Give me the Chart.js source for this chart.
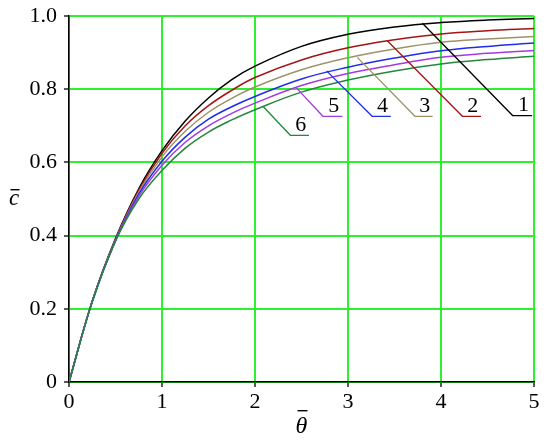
<!DOCTYPE html>
<html>
<head>
<meta charset="utf-8">
<script src="https://cdn.jsdelivr.net/npm/chart.js@4/dist/chart.umd.min.js"></script>
<style>
	html, body { margin: 0; padding: 0; background: #fff; }
	#wrap { width: 550px; height: 444px; }
</style>
</head>
<body>
<div id="wrap"><canvas id="conc-chart"></canvas></div>
<script>
// dimensionless time (theta bar)
var theta = [0, 0.25, 0.5, 0.75, 1, 1.25, 1.5, 1.75, 2, 2.5, 3, 3.5, 4, 4.5, 5];

// concentration curves 1..6
var curve1 = [0, 0.221, 0.392, 0.528, 0.632, 0.713, 0.776, 0.826, 0.863, 0.917, 0.950, 0.970, 0.982, 0.989, 0.993];
var curve2 = [0, 0.221, 0.390, 0.524, 0.625, 0.700, 0.755, 0.797, 0.832, 0.880, 0.913, 0.935, 0.951, 0.960, 0.966];
var curve3 = [0, 0.220, 0.388, 0.519, 0.615, 0.685, 0.737, 0.775, 0.806, 0.853, 0.886, 0.910, 0.928, 0.937, 0.944];
var curve4 = [0, 0.220, 0.387, 0.513, 0.603, 0.669, 0.718, 0.752, 0.780, 0.828, 0.860, 0.885, 0.905, 0.917, 0.926];
var curve5 = [0, 0.220, 0.386, 0.507, 0.592, 0.655, 0.700, 0.734, 0.762, 0.810, 0.843, 0.867, 0.887, 0.898, 0.906];
var curve6 = [0, 0.219, 0.385, 0.500, 0.578, 0.639, 0.683, 0.716, 0.744, 0.792, 0.825, 0.850, 0.869, 0.881, 0.890];

var curveNames = ['1', '2', '3', '4', '5', '6'];
var curveColors = ['#000000', '#a31515', '#9c9468', '#1f2ee8', '#a43ae0', '#23883a'];

var xTicks = [0, 1, 2, 3, 4, 5];
var yTicks = [0, 0.2, 0.4, 0.6, 0.8, 1.0];

// leader lines for the curve numbers (data units): start on curve, elbow, end of underline
var leaders = [
	{ x0: 3.80, y0: 0.980, x1: 4.77, y1: 0.728, x2: 4.98 },
	{ x0: 3.42, y0: 0.933, x1: 4.23, y1: 0.726, x2: 4.43 },
	{ x0: 3.10, y0: 0.887, x1: 3.72, y1: 0.726, x2: 3.91 },
	{ x0: 2.77, y0: 0.850, x1: 3.26, y1: 0.726, x2: 3.46 },
	{ x0: 2.44, y0: 0.805, x1: 2.73, y1: 0.726, x2: 2.94 },
	{ x0: 2.09, y0: 0.752, x1: 2.38, y1: 0.674, x2: 2.58 }
];

var allCurves = [curve1, curve2, curve3, curve4, curve5, curve6];
var serif = "'Liberation Serif', serif";
var gridGreen = '#2ff02f';

// italic letter with a bar over it
function barredLetter(ctx, ch, size, x, y, barTop, barW) {
	ctx.font = 'italic ' + size + 'px ' + serif;
	ctx.textAlign = 'center';
	ctx.textBaseline = 'alphabetic';
	ctx.fillText(ch, x, y);
	ctx.fillRect(x - barW / 2 + 1, y - barTop, barW, 1.4);
}

var labelPlugin = {
	id: 'curveLabels',
	afterDatasetsDraw: function (chart) {
		var ctx = chart.ctx;
		var xs = chart.scales.x, ys = chart.scales.y;
		ctx.save();
		leaders.forEach(function (l, i) {
			ctx.strokeStyle = curveColors[i];
			ctx.lineWidth = 1.3;
			ctx.beginPath();
			ctx.moveTo(xs.getPixelForValue(l.x0), ys.getPixelForValue(l.y0));
			ctx.lineTo(xs.getPixelForValue(l.x1), ys.getPixelForValue(l.y1));
			ctx.lineTo(xs.getPixelForValue(l.x2), ys.getPixelForValue(l.y1));
			ctx.stroke();
			ctx.fillStyle = '#000';
			ctx.font = '22px ' + serif;
			ctx.textAlign = 'center';
			ctx.textBaseline = 'bottom';
			var cx = (xs.getPixelForValue(l.x1) + xs.getPixelForValue(l.x2)) / 2 + 1;
			ctx.fillText(curveNames[i], cx, ys.getPixelForValue(l.y1) + 1);
		});
		// axis titles
		ctx.fillStyle = '#000';
		barredLetter(ctx, 'c', 23, 14, 205, 16, 9);
		barredLetter(ctx, '\u03b8', 24, (chart.chartArea.left + chart.chartArea.right) / 2, 433, 23, 10);
		ctx.restore();
	}
};

function drawChart() {
	new Chart('conc-chart', {
		type: 'line',
		data: {
			datasets: allCurves.map(function (c, i) {
				return {
					label: curveNames[i],
					data: theta.map(function (t, k) { return { x: t, y: c[k] }; }),
					borderColor: curveColors[i],
					borderWidth: 1.5,
					pointRadius: 0,
					fill: false,
					tension: 0.4
				};
			}).reverse()
		},
		options: {
			responsive: true,
			maintainAspectRatio: false,
			animation: false,
			layout: { padding: { top: 16, right: 16, left: 0, bottom: 0 } },
			plugins: {
				legend: { display: false },
				tooltip: { enabled: false }
			},
			scales: {
				x: {
					type: 'linear',
					min: 0,
					max: 5,
					afterBuildTicks: function (s) { s.ticks = xTicks.map(function (v) { return { value: v }; }); },
					afterFit: function (s) { s.height = 62; s.paddingLeft = 0; s.paddingRight = 0; },
					grid: { color: gridGreen, lineWidth: 2, tickColor: '#000', tickLength: 5, tickWidth: 1.3 },
					border: { color: '#000', width: 1.5 },
					ticks: { color: '#000', font: { family: serif, size: 22 }, padding: 2, maxRotation: 0 }
				},
				y: {
					min: 0,
					max: 1,
					afterBuildTicks: function (s) { s.ticks = yTicks.map(function (v) { return { value: v }; }); },
					afterFit: function (s) { s.width = 69; s.paddingTop = 0; s.paddingBottom = 0; },
					grid: { color: gridGreen, lineWidth: 2, tickColor: '#000', tickLength: 5, tickWidth: 1.3 },
					border: { color: '#000', width: 1.5 },
					ticks: {
						color: '#000',
						font: { family: serif, size: 22 },
						padding: 7,
						callback: function (v) { return v === 0 ? '0' : v.toFixed(1); }
					}
				}
			}
		},
		plugins: [labelPlugin]
	});
}

// make sure the serif face is ready before canvas text is drawn
Promise.all([
	document.fonts.load("22px 'Liberation Serif'"),
	document.fonts.load("italic 22px 'Liberation Serif'")
]).then(drawChart, drawChart);
</script>
</body>
</html>
